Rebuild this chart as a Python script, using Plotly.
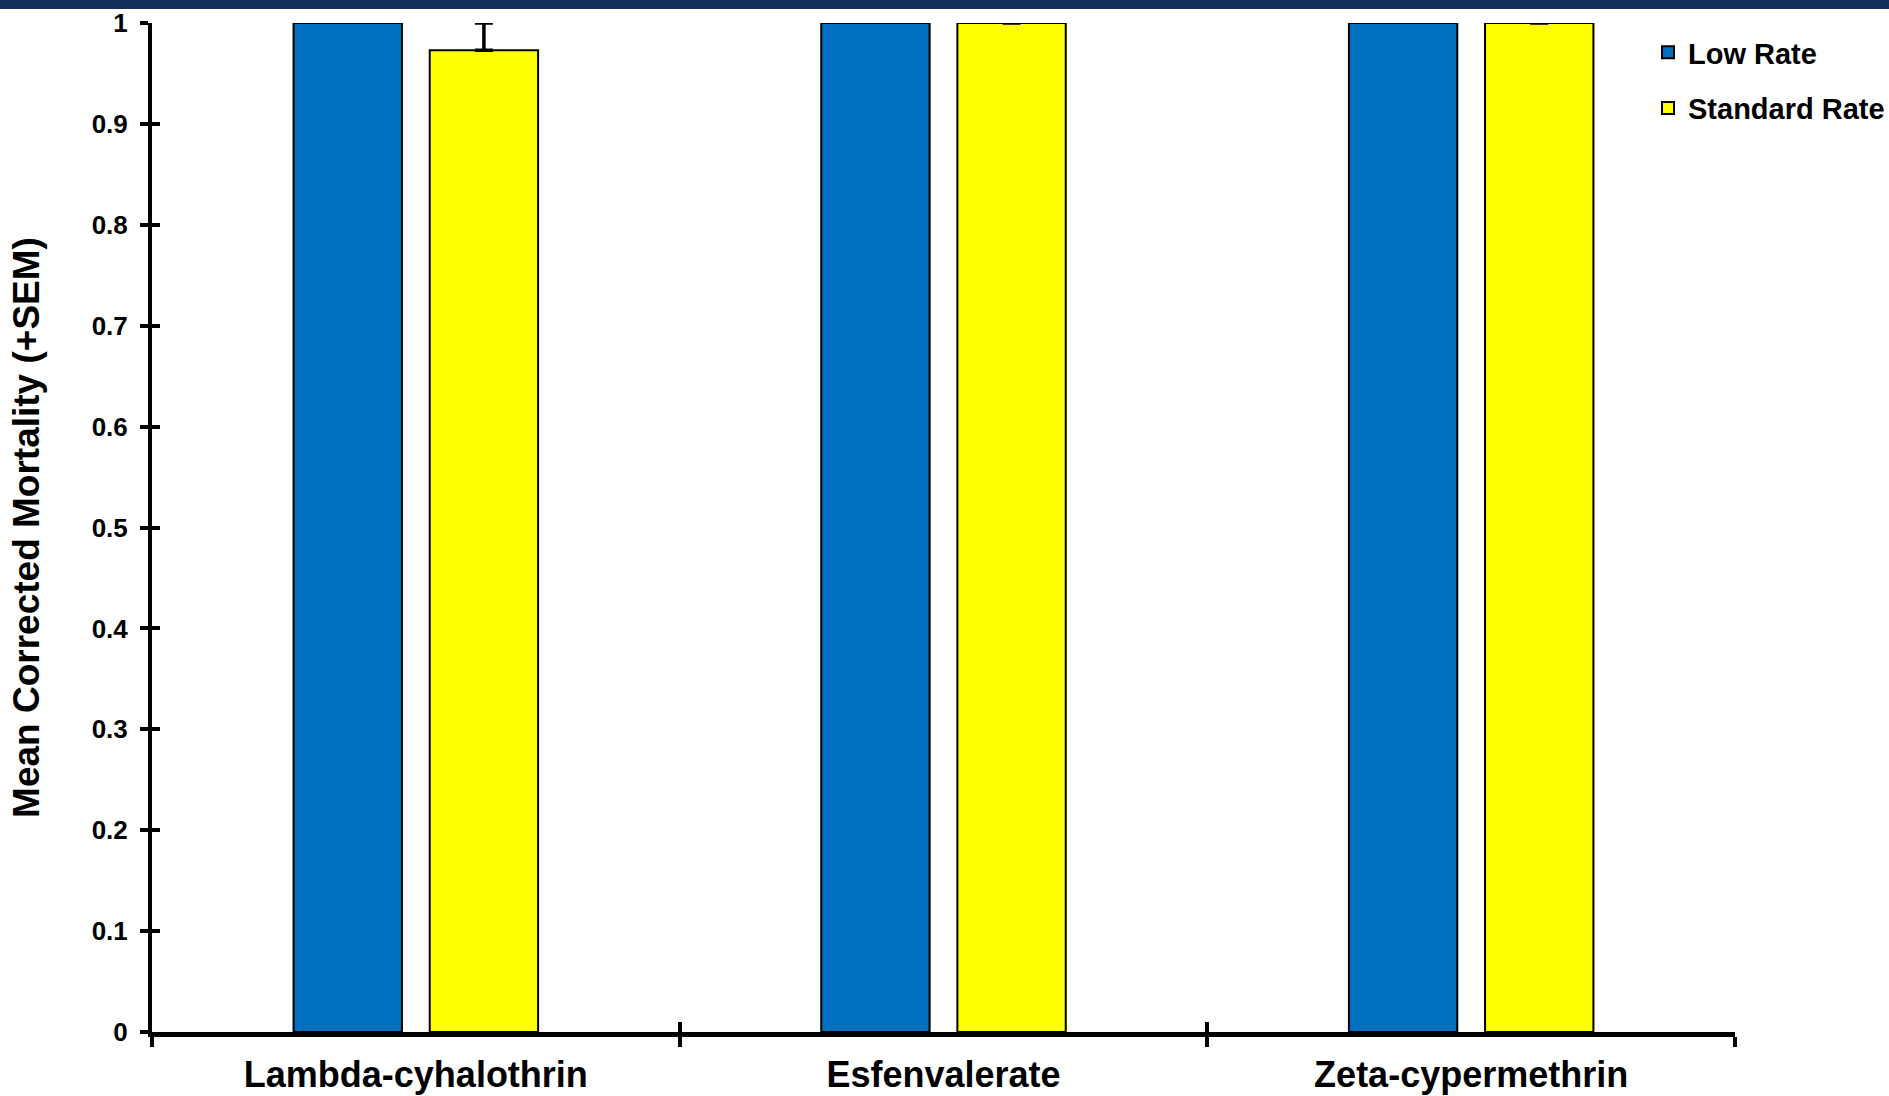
import plotly.graph_objects as go

categories = ["Lambda-cyhalothrin", "Esfenvalerate", "Zeta-cypermethrin"]
low_rate = [1.0, 1.0, 1.0]
standard_rate = [0.973, 1.0, 1.0]
standard_sem = [0.027, 0.0, 0.0]
y_ticks = [0, 0.1, 0.2, 0.3, 0.4, 0.5, 0.6, 0.7, 0.8, 0.9, 1]
y_tick_text = ["0", "0.1", "0.2", "0.3", "0.4", "0.5", "0.6", "0.7", "0.8", "0.9", "1"]

FONT = "Liberation Sans, Arial, sans-serif"

fig = go.Figure()
fig.add_trace(go.Bar(
    x=categories, y=low_rate, name="Low Rate", legendgroup="a",
    marker=dict(color="#0070C0", line=dict(color="black", width=2)),
))
fig.add_trace(go.Bar(
    x=categories, y=standard_rate, name="Standard Rate", legendgroup="b",
    marker=dict(color="#FFFF00", line=dict(color="black", width=2)),
    error_y=dict(type="data", array=standard_sem, symmetric=False,
                 arrayminus=[0, 0, 0], color="black", thickness=3.5, width=9),
))
# helper trace to carry the overlay axes (inside ticks so ticks cross the axis lines)
fig.add_trace(go.Scatter(
    x=categories, y=low_rate, mode="none", xaxis="x2", yaxis="y2",
    showlegend=False, hoverinfo="skip",
))

fig.update_layout(
    width=1889, height=1096,
    margin=dict(l=152, r=154, t=23, b=64, autoexpand=False),
    paper_bgcolor="white", plot_bgcolor="white",
    barmode="group", bargap=0.484, bargroupgap=0.204,
    font=dict(family=FONT, color="black"),
    xaxis=dict(
        type="category", categoryorder="array", categoryarray=categories,
        range=[-0.5, 2.5], tickson="boundaries", automargin=False,
        ticks="outside", ticklen=10, tickwidth=4, tickcolor="black",
        showline=True, linewidth=5, linecolor="black",
        showgrid=False, zeroline=False,
        tickfont=dict(size=36, family=FONT, weight="bold"),
        ticklabelstandoff=7,
    ),
    yaxis=dict(
        range=[0, 1], tickvals=y_ticks, ticktext=y_tick_text, automargin=False,
        ticks="outside", ticklen=8, tickwidth=4, tickcolor="black",
        showline=True, linewidth=4, linecolor="black",
        showgrid=False, zeroline=False,
        tickfont=dict(size=26, family=FONT, weight="bold"),
        ticklabelstandoff=7,
        title=dict(text="Mean Corrected Mortality (+SEM)",
                   font=dict(size=37, family=FONT, weight="bold"), standoff=42),
    ),
    xaxis2=dict(
        type="category", categoryorder="array", categoryarray=categories,
        overlaying="x", matches="x", tickson="boundaries", automargin=False,
        ticks="inside", ticklen=10, tickwidth=4, tickcolor="black",
        showticklabels=False, showline=False, showgrid=False, zeroline=False,
        anchor="y2",
    ),
    yaxis2=dict(
        overlaying="y", matches="y", side="left", tickvals=y_ticks, automargin=False,
        ticks="inside", ticklen=8, tickwidth=4, tickcolor="black",
        showticklabels=False, showline=False, showgrid=False, zeroline=False,
        anchor="x2",
    ),
    legend=dict(
        x=1648 / 1889, xanchor="left", y=1 - 27 / 1096, yanchor="top",
        xref="container", yref="container",
        font=dict(size=29, family=FONT, weight="bold"),
        traceorder="grouped", tracegroupgap=15,
        bgcolor="rgba(0,0,0,0)", itemwidth=30,
    ),
    shapes=[dict(
        type="rect", xref="paper", yref="paper",
        x0=-152 / 1583, x1=1 + 154 / 1583,
        ysizemode="pixel", yanchor=1, y0=14, y1=23,
        fillcolor="#10305a", line=dict(width=0), layer="above",
    )],
    showlegend=True,
)

fig.write_html("out.html", config={"displayModeBar": False},
               post_script="document.body.style.margin='0';")
